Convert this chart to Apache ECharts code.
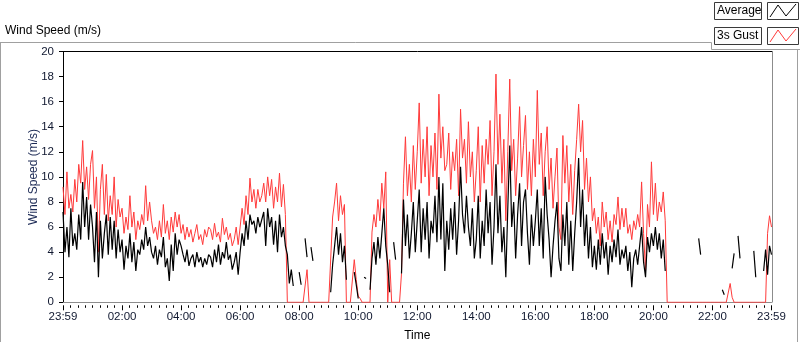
<!DOCTYPE html>
<html>
<head>
<meta charset="utf-8">
<script src="https://cdn.jsdelivr.net/npm/echarts@6/dist/echarts.min.js"></script>
<style>
html,body{margin:0;padding:0;background:#fff;}
#chart{width:800px;height:342px;}
</style>
</head>
<body>
<div id="chart"></div>
<script>
// Time step between samples (minutes), axis from 23:59 (prev day) to 23:59
const stepMinutes = 4;
const seriesNames = ['Average', '3s Gust'];
const yTicks = [0, 2, 4, 6, 8, 10, 12, 14, 16, 18, 20];

// 3s Gust (m/s), one value every 4 minutes
const gust = [
 9.2, 7.0, 10.4, 7.5, 8.6, 7.2, 9.8, 8.0, 11.0, 9.5, 12.9, 9.0, 10.8, 8.2, 11.0,
 12.1, 7.5, 10.0, 4.0, 9.0, 11.0, 7.0, 10.2, 6.5, 8.5, 7.0, 10.0, 6.0, 8.2, 6.8,
 7.5, 5.5, 6.8, 5.8, 8.5, 6.0, 7.2, 5.0, 6.5, 5.8, 7.0, 6.2, 9.3, 6.5, 8.0,
 6.5, 5.5, 6.0, 5.0, 6.5, 5.2, 7.8, 5.5, 6.5, 5.0, 6.8, 5.6, 7.2, 6.0, 7.0,
 5.5, 6.2, 5.0, 6.0, 5.2, 5.8, 4.8, 5.5, 6.2, 5.0, 5.4, 4.6, 5.8, 5.2, 6.0,
 5.8, 5.0, 6.3, 5.2, 5.6, 4.8, 6.7, 5.4, 6.0, 5.0, 5.5, 4.5, 5.0, 6.0, 4.6,
 6.0, 7.5, 6.2, 8.5, 7.0, 9.9, 8.0, 9.0, 7.5, 9.0, 8.0, 8.5, 9.5, 8.0, 10.0,
 8.5, 9.8, 7.5, 9.2, 8.0, 10.3, 7.6, 9.4, 7.0, 0, 0, 0, 0, 0, 0,
 0, 0, 0, 0, 2.6, 0, 0, 0, 0, 0, 0, 0, 0, 0, 0,
 0, 0, 6.8, 8.0, 9.5, 6.5, 8.5, 7.0, 7.8, 0, 0, 0, 0, 3.4, 1.8,
 0.5, 0.3, 0, 0, 0, 0, 0, 5.6, 7.0, 6.0, 8.2, 6.5, 9.5, 7.5, 10.4,
 0, 3.4, 0, 0, 0, 0, 0, 2.3, 9.5, 13.2, 8.5, 11.0, 8.0, 12.5, 9.0,
 12.0, 15.9, 9.5, 13.0, 10.0, 14.0, 8.5, 12.5, 10.0, 13.5, 9.0, 16.6, 11.5, 14.0, 10.5,
 11.0, 13.5, 9.0, 12.0, 10.5, 13.0, 8.5, 15.4, 11.5, 13.0, 9.5, 14.4, 10.0, 12.0, 8.0,
 10.5, 14.0, 8.0, 12.5, 9.5, 13.0, 11.0, 14.5, 8.5, 12.0, 18.2, 11.0, 15.0, 9.5, 13.0,
 6.5, 12.0, 17.8, 10.5, 13.0, 8.5, 11.5, 15.6, 10.0, 12.5, 14.9, 9.0, 12.0, 8.5, 13.0,
 10.0, 16.9, 11.0, 13.5, 8.5, 12.0, 14.0, 9.0, 11.5, 7.5, 10.0, 12.3, 6.0, 5.0, 13.3,
 9.5, 12.5, 8.0, 11.0, 7.0, 10.5, 13.0, 15.8, 12.0, 14.5, 9.0, 11.5, 8.0, 10.0, 6.5,
 7.5, 5.5, 6.8, 4.5, 8.0, 6.0, 7.2, 5.0, 6.5, 4.8, 7.0, 6.2, 8.4, 5.8, 7.5,
 6.0, 7.5, 5.5, 6.2, 5.0, 6.5, 5.8, 7.0, 6.0, 9.6, 5.5, 2.5, 7.8, 6.0, 11.2,
 7.0, 9.5, 6.5, 8.0, 7.2, 8.8, 6.5, 0, 0, 0, 0, 0, 0, 0, 0,
 0, 0, 0, 0, 0, 0, 0, 0, 0, 0, 0, 0, 0, 0, 0,
 0, 0, 0, 0, 0, 0, 0, 0, 0, 1.5, 0.4, 0, 0, 0, 0,
 0, 0, 0, 0, 0, 0, 0, 0, 0, 0, 0, 0, 0, 5.5, 6.9,
 6.0
];

// Average wind speed (m/s), one value every 4 minutes (null = no data)
const average = [
 7.2, 4.0, 6.0, 3.6, 7.5, 4.5, 5.5, 4.2, 7.0, 5.0, 9.6, 6.0, 8.4, 5.0, 7.8,
 6.0, 3.2, 7.2, 2.0, 6.5, 3.5, 5.5, 7.0, 3.8, 6.8, 4.2, 6.5, 3.5, 5.8, 4.0,
 5.0, 2.6, 4.5, 3.5, 5.5, 3.2, 4.8, 2.5, 4.2, 3.8, 5.0, 4.2, 6.0, 4.5, 5.2,
 4.0, 3.5, 4.5, 3.0, 4.2, 3.6, 5.2, 2.8, 3.5, 1.7, 4.6, 2.5, 5.5, 3.8, 5.0,
 4.5, 3.8, 3.2, 4.2, 2.9, 3.5, 3.8, 2.8, 4.0, 3.2, 3.6, 2.8, 3.5, 3.0, 3.8,
 3.6, 2.8, 4.2, 3.2, 4.6, 3.0, 4.0, 3.5, 4.8, 3.4, 3.8, 2.6, 3.2, 4.0, 2.2,
 4.0, 5.5, 4.5, 6.5, 5.0, 7.0, 6.2, 6.5, 5.5, 6.8, 6.0, 6.0, 7.2, 4.5, 7.5,
 6.0, 6.8, 4.6, 6.5, 4.0, 7.0, 5.2, 6.0, 4.5, 3.8, 1.5, 2.6, 1.3, null, null,
 2.4, 1.4, null, 5.1, 3.6, null, 4.4, 3.3, null, null, null, null, null, null, null,
 null, 0.8, 3.0, 4.5, 6.0, 3.8, 5.5, 3.2, 4.5, 1.8, null, null, null, 2.4, 1.4,
 0.3, null, null, 2.0, 1.9, null, 1.0, 3.5, 4.8, 3.0, 5.2, 3.5, 5.5, 7.5, 4.5,
 3.0, 0.8, null, 4.8, 3.4, null, null, 2.3, 8.2, 4.5, 7.0, 3.5, 5.5, 8.0, 4.0,
 6.5, 9.0, 4.0, 7.5, 5.0, 8.0, 3.5, 6.5, 5.5, 8.5, 4.8, 10.0, 5.0, 9.5, 2.5,
 6.5, 4.2, 7.5, 5.0, 8.0, 3.8, 6.5, 10.8, 7.0, 5.5, 8.5, 6.0, 4.5, 7.5, 3.5,
 5.0, 8.5, 3.5, 6.5, 4.5, 9.0, 5.5, 8.0, 3.0, 6.0, 11.0, 5.5, 8.5, 4.0, 6.0,
 2.0, 7.5, 12.5, 6.0, 8.0, 3.5, 7.0, 9.5, 4.5, 8.0, 9.0, 5.5, 3.0, 7.0, 4.5,
 6.5, 9.0, 4.5, 7.5, 3.5, 10.0, 7.0, 5.0, 2.0, 4.5, 6.5, 8.0, 3.5, 2.5, 7.0,
 4.5, 8.0, 3.0, 6.5, 2.5, 5.5, 8.0, 11.5, 6.0, 9.0, 4.5, 7.0, 3.5, 6.0, 2.8,
 4.5, 2.6, 5.0, 3.0, 5.5, 3.5, 4.8, 2.2, 4.5, 3.2, 5.0, 3.6, 5.8, 3.0, 4.2,
 3.5, 4.5, 2.5, 4.0, 1.2, 3.5, 4.2, 3.0, 4.5, 6.0, 3.2, 2.0, 5.2, 4.0, 5.5,
 4.5, 6.0, 4.2, 5.5, 3.5, 5.0, 2.5, null, null, null, null, null, null, null, null,
 null, null, null, null, null, null, null, null, 5.1, 3.8, null, null, null, null, null,
 null, null, null, null, null, 1.0, 0.6, null, null, null, 2.7, 3.9, null, 5.3, 3.5,
 null, null, null, null, null, null, 4.1, 2.0, null, null, null, 2.5, 4.2, 2.2, 4.5,
 3.8
];

function toPairs(arr) { return arr.map((v, i) => [i * stepMinutes, v]); }
function pad(n) { return (n < 10 ? '0' : '') + n; }
function timeLabel(v) {
  if (v === 0 || v === 1440) return '23:59';
  return pad(Math.round(v / 60)) + ':00';
}

const FONT = 'Liberation Sans';
const chart = echarts.init(document.getElementById('chart'), null, {renderer: 'canvas'});

const option = {
  animation: false,
  backgroundColor: '#ffffff',
  title: {
    text: 'Wind Speed (m/s)',
    left: 5, top: 25, padding: 0,
    textStyle: {fontFamily: FONT, fontSize: 12, fontWeight: 'normal', color: '#000'}
  },
  grid: {left: 63, right: 28.5, top: 51.5, bottom: 39.7, show: false,
    containLabel: false, outerBoundsMode: 'none'},
  xAxis: [
    {
      type: 'value', min: 0, max: 1440, interval: 120,
      position: 'bottom',
      axisLine: {show: true, lineStyle: {color: '#8c8c8c', width: 1}},
      axisTick: {show: false}, axisLabel: {show: false},
      splitLine: {show: false}
    },
    {
      type: 'value', min: 0, max: 1440, interval: 120,
      position: 'bottom', offset: 3,
      name: 'Time', nameLocation: 'middle', nameGap: 24, nameMoveOverlap: false,
      nameTextStyle: {fontFamily: FONT, fontSize: 12, color: '#000'},
      axisLine: {show: false},
      axisTick: {show: true, length: 5, lineStyle: {color: '#000'}},
      minorTick: {show: true, splitNumber: 8, length: 2.5, lineStyle: {color: '#000'}},
      axisLabel: {show: true, margin: 6, formatter: timeLabel,
        fontFamily: FONT, fontSize: 11.5, color: '#101830'},
      splitLine: {show: false}
    }
  ],
  yAxis: {
    type: 'value', min: 0, max: 20, interval: 2,
    name: 'Wind Speed (m/s)', nameLocation: 'middle', nameGap: 23, nameMoveOverlap: false,
    nameTextStyle: {fontFamily: FONT, fontSize: 12, color: '#1c2a55'},
    axisLine: {show: true, lineStyle: {color: '#000', width: 1}},
    axisTick: {show: true, length: 4, lineStyle: {color: '#000'}},
    axisLabel: {margin: 9, fontFamily: FONT, fontSize: 11.5, color: '#101830',
      formatter: v => (yTicks.indexOf(v) >= 0 ? String(v) : '')},
    splitLine: {show: false}
  },
  series: [
    {
      name: seriesNames[1], type: 'line', xAxisIndex: 0,
      data: toPairs(gust), showSymbol: false, symbol: 'none',
      connectNulls: false, sampling: null,
      lineStyle: {color: '#ff3a3a', width: 1}, z: 2
    },
    {
      name: seriesNames[0], type: 'line', xAxisIndex: 0,
      data: toPairs(average), showSymbol: false, symbol: 'none',
      connectNulls: false, sampling: null,
      lineStyle: {color: '#000000', width: 1.2}, z: 3
    }
  ],
  graphic: [
    // outer panel frame
    {type: 'line', shape: {x1: 0, y1: 42.5, x2: 711.5, y2: 42.5}, style: {stroke: '#a0a0a0', lineWidth: 1}},
    {type: 'line', shape: {x1: 711.5, y1: 42.5, x2: 711.5, y2: 49.5}, style: {stroke: '#a0a0a0', lineWidth: 1}},
    {type: 'line', shape: {x1: 711.5, y1: 49.5, x2: 800, y2: 49.5}, style: {stroke: '#a0a0a0', lineWidth: 1}},
    {type: 'line', shape: {x1: 0.5, y1: 42.5, x2: 0.5, y2: 342}, style: {stroke: '#a0a0a0', lineWidth: 1}},
    {type: 'line', shape: {x1: 797.5, y1: 49.5, x2: 797.5, y2: 342}, style: {stroke: '#a0a0a0', lineWidth: 1}},
    // plot frame top and right
    {type: 'line', z: 10, shape: {x1: 62.5, y1: 51.5, x2: 772.5, y2: 51.5}, style: {stroke: '#000', lineWidth: 1}},
    {type: 'line', z: 10, shape: {x1: 772.5, y1: 51.5, x2: 772.5, y2: 302.5}, style: {stroke: '#8c8c8c', lineWidth: 1}},
    // legend
    {type: 'rect', shape: {x: 714.5, y: 2.5, width: 47, height: 17}, style: {fill: '#fdfdfd', stroke: '#3a3a3a', lineWidth: 1}},
    {type: 'text', x: 717, y: 11, style: {text: seriesNames[0], font: '12px "' + FONT + '"', fill: '#000', verticalAlign: 'middle'}},
    {type: 'rect', shape: {x: 767.5, y: 2.5, width: 31, height: 17}, style: {fill: '#ffffff', stroke: '#3a3a3a', lineWidth: 1}},
    {type: 'polyline', shape: {points: [[770, 17], [778, 5], [786, 16], [796, 4]]}, style: {stroke: '#000', lineWidth: 1, fill: null}},
    {type: 'rect', shape: {x: 714.5, y: 27.5, width: 47, height: 17}, style: {fill: '#fdfdfd', stroke: '#3a3a3a', lineWidth: 1}},
    {type: 'text', x: 717, y: 36, style: {text: seriesNames[1], font: '12px "' + FONT + '"', fill: '#000', verticalAlign: 'middle'}},
    {type: 'rect', shape: {x: 767.5, y: 27.5, width: 31, height: 17}, style: {fill: '#ffffff', stroke: '#3a3a3a', lineWidth: 1}},
    {type: 'polyline', shape: {points: [[770, 42], [778, 30], [786, 41], [796, 29]]}, style: {stroke: '#ff3a3a', lineWidth: 1, fill: null}}
  ]
};
chart.setOption(option);
</script>
</body>
</html>
